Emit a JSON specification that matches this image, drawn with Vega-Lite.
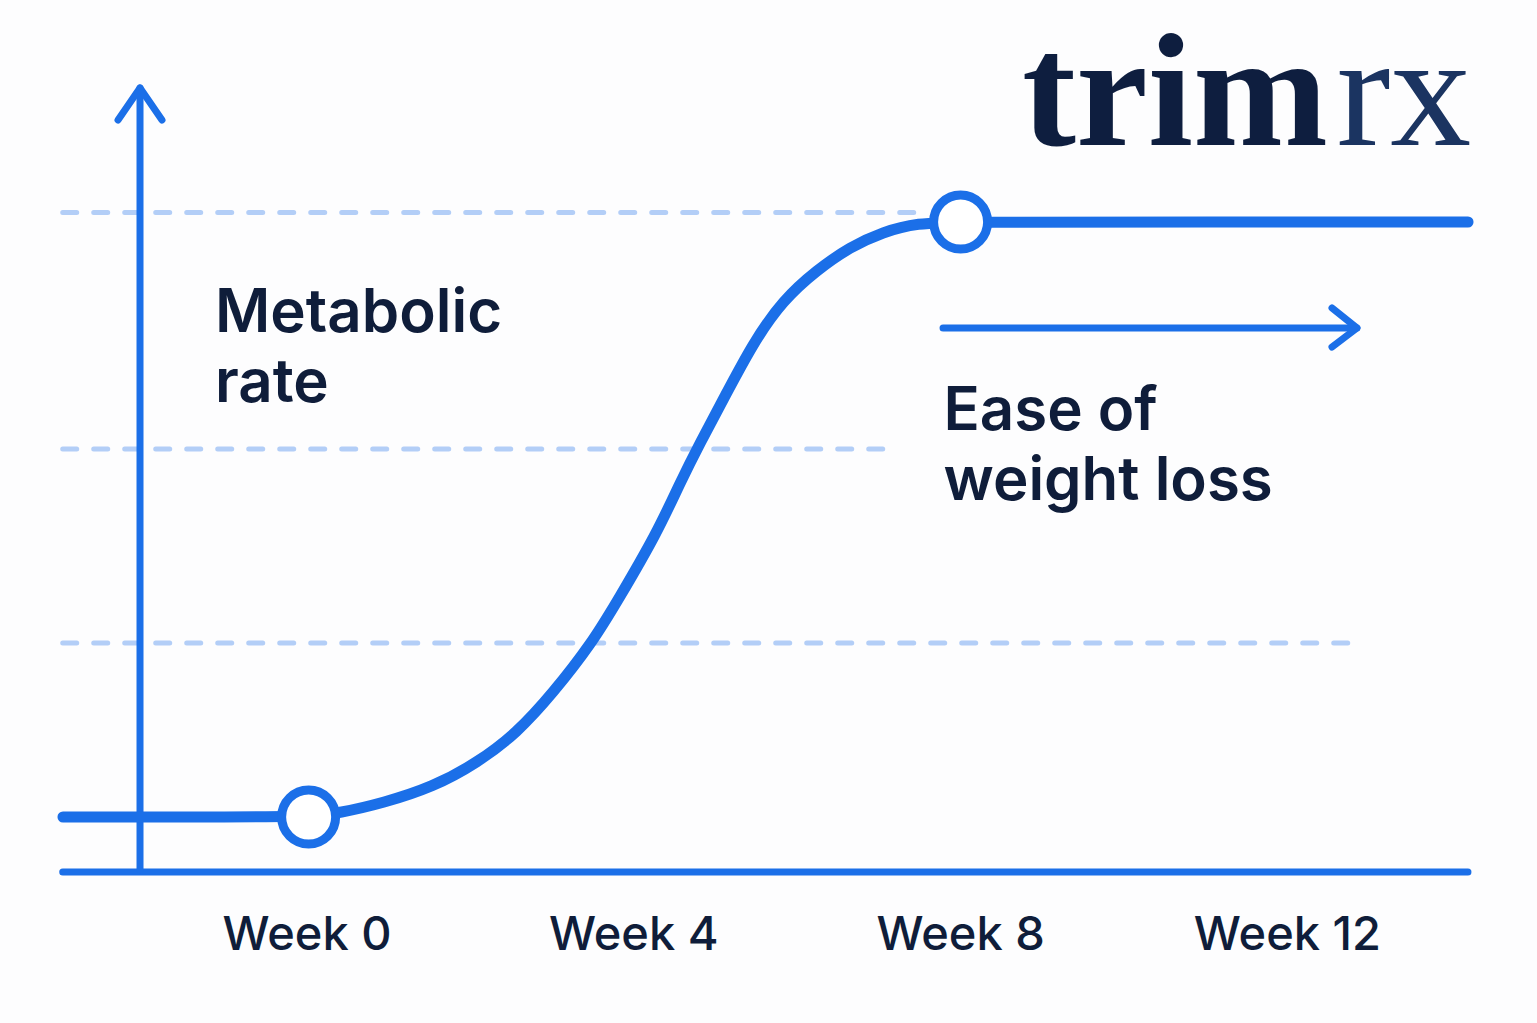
{
  "$schema": "https://vega.github.io/schema/vega-lite/v6.json",
  "width": 1537,
  "height": 1023,
  "autosize": {"type": "fit", "contains": "padding"},
  "padding": 0,
  "background": "#fdfdfe",
  "config": {"view": {"stroke": null}},
  "encoding": {
    "x": {"field": "w", "type": "quantitative", "scale": {"domain": [-3.7577, 15.0551], "nice": false, "zero": false}, "axis": null},
    "y": {"field": "v", "type": "quantitative", "scale": {"domain": [-17.70, 119.85], "nice": false, "zero": false}, "axis": null}
  },
  "layer": [
    {
      "data": {"values": [
        {"w": -2.99, "w2": 7.6, "v": 91.28},
        {"w": -2.99, "w2": 7.1, "v": 59.48},
        {"w": -2.99, "w2": 12.85, "v": 33.39}
      ]},
      "mark": {"type": "rule", "color": "#b3cef7", "strokeWidth": 5, "strokeDash": [14, 17], "strokeCap": "round"},
      "encoding": {"x2": {"field": "w2"}}
    },
    {
      "data": {"values": [{"w": -2.99, "w2": 14.21, "v": 2.605}]},
      "mark": {"type": "rule", "color": "#1b6fe8", "strokeWidth": 7, "strokeCap": "round"},
      "encoding": {"x2": {"field": "w2"}}
    },
    {
      "data": {"values": [
        {"part": "yaxis", "o": 0, "w": -2.044, "v": 2.9},
        {"part": "yaxis", "o": 1, "w": -2.044, "v": 108.02},
        {"part": "yhead", "o": 0, "w": -2.313, "v": 103.71},
        {"part": "yhead", "o": 1, "w": -2.044, "v": 108.02},
        {"part": "yhead", "o": 2, "w": -1.775, "v": 103.71},
        {"part": "shaft", "o": 0, "w": 7.785, "v": 75.75},
        {"part": "shaft", "o": 1, "w": 12.85, "v": 75.75},
        {"part": "rhead", "o": 0, "w": 12.546, "v": 78.44},
        {"part": "rhead", "o": 1, "w": 12.852, "v": 75.75},
        {"part": "rhead", "o": 2, "w": 12.546, "v": 73.19}
      ]},
      "mark": {"type": "line", "color": "#1b6fe8", "strokeWidth": 7, "strokeCap": "round", "strokeJoin": "round"},
      "encoding": {"detail": {"field": "part"}, "order": {"field": "o"}}
    },
    {
      "data": {"values": [
        {"w": -2.987, "v": 10},
        {"w": -1.5, "v": 10},
        {"w": 0, "v": 10},
        {"w": 0.404, "v": 10.54},
        {"w": 0.93, "v": 11.88},
        {"w": 1.542, "v": 14.03},
        {"w": 2.081, "v": 17.26},
        {"w": 2.57, "v": 21.29},
        {"w": 3.011, "v": 26.67},
        {"w": 3.488, "v": 33.39},
        {"w": 3.807, "v": 39.18},
        {"w": 4.284, "v": 48.18},
        {"w": 4.565, "v": 54.91},
        {"w": 4.81, "v": 60.29},
        {"w": 5.092, "v": 66.07},
        {"w": 5.459, "v": 73.73},
        {"w": 5.826, "v": 79.51},
        {"w": 6.242, "v": 83.55},
        {"w": 6.646, "v": 86.64},
        {"w": 7.05, "v": 88.66},
        {"w": 7.466, "v": 89.87},
        {"w": 8.0, "v": 90},
        {"w": 11.0, "v": 90},
        {"w": 14.211, "v": 90}
      ]},
      "mark": {"type": "line", "color": "#1b6fe8", "strokeWidth": 11, "strokeCap": "round", "strokeJoin": "round", "interpolate": "basis"}
    },
    {
      "data": {"values": [{"w": 0.02, "v": 10}, {"w": 8.0, "v": 90}]},
      "mark": {"type": "point", "shape": "circle", "filled": false, "fill": "#ffffff", "fillOpacity": 1, "stroke": "#1b6fe8", "strokeWidth": 9, "size": 2916, "opacity": 1}
    },
    {
      "data": {"values": [
        {"label": "Metabolic", "w": -1.126, "v": 75.21},
        {"label": "rate", "w": -1.126, "v": 65.8},
        {"label": "Ease of", "w": 7.79, "v": 62.03},
        {"label": "weight loss", "w": 7.79, "v": 52.62}
      ]},
      "mark": {"type": "text", "font": "Inter", "fontSize": 60, "fontWeight": 600, "color": "#0f1d3a", "align": "left", "baseline": "alphabetic"},
      "encoding": {"text": {"field": "label"}}
    },
    {
      "data": {"values": [
        {"label": "Week 0", "w": 0, "v": -7.88},
        {"label": "Week 4", "w": 4, "v": -7.88},
        {"label": "Week 8", "w": 8, "v": -7.88},
        {"label": "Week 12", "w": 12, "v": -7.88}
      ]},
      "mark": {"type": "text", "font": "Inter", "fontSize": 47, "fontWeight": 500, "color": "#0f1d3a", "align": "center", "baseline": "alphabetic"},
      "encoding": {"text": {"field": "label"}}
    },
    {
      "data": {"values": [{"label": "trim", "w": 8.752, "v": 100.35}]},
      "mark": {"type": "text", "font": "Liberation Serif", "fontSize": 162, "fontWeight": "bold", "color": "#0e1e3f", "align": "left", "baseline": "alphabetic"},
      "encoding": {"text": {"field": "label"}}
    },
    {
      "data": {"values": [{"label": "rx", "w": 12.6, "v": 100.35}]},
      "mark": {"type": "text", "font": "Liberation Serif", "fontSize": 162, "fontWeight": "normal", "color": "#1b3461", "align": "left", "baseline": "alphabetic"},
      "encoding": {"text": {"field": "label"}}
    }
  ]
}
